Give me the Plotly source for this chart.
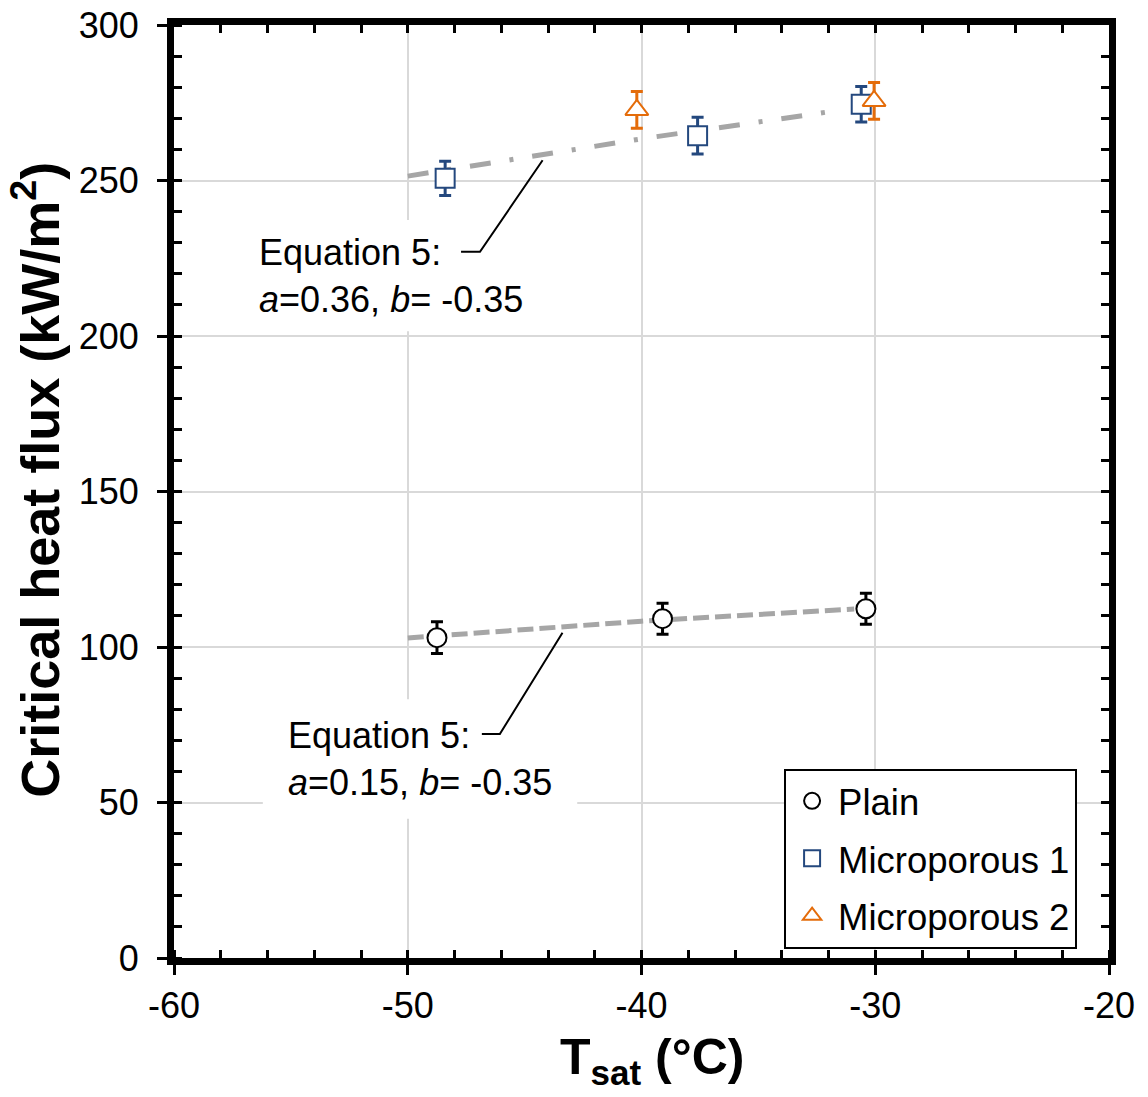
import plotly.graph_objects as go

# ---- data ----
plain_x = [-48.75, -39.1, -30.4]
plain_y = [103.0, 109.1, 112.3]
plain_err = [5.1, 5.0, 5.0]

micro1_x = [-48.4, -37.6, -30.6]
micro1_y = [250.7, 264.4, 274.5]
micro1_err = [5.5, 5.9, 5.7]

micro2_x = [-40.2, -30.05]
micro2_y = [272.7, 275.6]
micro2_err = [5.9, 5.9]

fit_plain_x = [-50.0, -40.0, -30.9]
fit_plain_y = [102.9, 108.3, 112.2]

fit_micro_x = [-50.0, -40.0, -31.7]
fit_micro_y = [251.4, 263.4, 272.4]

upper_leader_x = [-44.23, -46.91, -47.72]
upper_leader_y = [256.5, 227.1, 227.1]
lower_leader_x = [-43.38, -46.06, -46.83]
lower_leader_y = [104.6, 72.0, 72.0]

upper_label = "Equation 5:<br><i>a</i>=0.36, <i>b</i>= -0.35"
lower_label = "Equation 5:<br><i>a</i>=0.15, <i>b</i>= -0.35"
upper_label_pos = (-56.45, 219.4)
lower_label_pos = (-55.2, 64.0)
upper_box = (-56.7, -44.2, 201.5, 237.3)
lower_box = (-56.2, -42.75, 44.8, 83.2)

x_tickvals = [-60, -50, -40, -30, -20]
x_ticktext = ["-60", "-50", "-40", "-30", "-20"]
y_tickvals = [0, 50, 100, 150, 200, 250, 300]
y_ticktext = ["0", "50", "100", "150", "200", "250", "300"]

x_range = [-60, -20]
y_range = [0, 300]

FONT = "Liberation Sans, Arial, sans-serif"
BLUE = "#24487E"
ORANGE = "#E46C0A"
GRAY = "#A6A6A6"

fig = go.Figure()

fig.add_trace(go.Scatter(x=fit_plain_x, y=fit_plain_y, mode="lines", showlegend=False,
                         line=dict(color=GRAY, width=5, dash="16px,6px"), hoverinfo="skip"))
fig.add_trace(go.Scatter(x=fit_micro_x, y=fit_micro_y, mode="lines", showlegend=False,
                         line=dict(color=GRAY, width=5, dash="21px,19px,4px,19px"), hoverinfo="skip"))

fig.add_trace(go.Scatter(
    x=plain_x, y=plain_y, mode="markers", name="Plain", legendgroup="a",
    marker=dict(symbol="circle", size=19, color="white", line=dict(color="black", width=2)),
    error_y=dict(type="data", array=plain_err, color="black", thickness=3, width=6)))
fig.add_trace(go.Scatter(
    x=micro1_x, y=micro1_y, mode="markers", name="Microporous 1", legendgroup="b",
    marker=dict(symbol="square", size=19, color="white", line=dict(color=BLUE, width=2)),
    error_y=dict(type="data", array=micro1_err, color=BLUE, thickness=3, width=6)))
fig.add_trace(go.Scatter(
    x=micro2_x, y=micro2_y, mode="markers", name="Microporous 2", legendgroup="c",
    marker=dict(symbol="triangle-up", size=20, color="white", line=dict(color=ORANGE, width=2)),
    error_y=dict(type="data", array=micro2_err, color=ORANGE, thickness=3, width=6)))

# dummy traces so the overlay tick axes render
fig.add_trace(go.Scatter(x=[None], y=[None], xaxis="x2", yaxis="y2", showlegend=False))
fig.add_trace(go.Scatter(x=[None], y=[None], xaxis="x3", yaxis="y3", showlegend=False))

shapes = []
for bx0, bx1, by0, by1 in [upper_box, lower_box]:
    shapes.append(dict(type="rect", xref="x", yref="y", x0=bx0, x1=bx1, y0=by0, y1=by1,
                       fillcolor="white", line=dict(width=0), layer="between"))
for lxs, lys in [(upper_leader_x, upper_leader_y), (lower_leader_x, lower_leader_y)]:
    path = "M " + " L ".join(f"{a},{b}" for a, b in zip(lxs, lys))
    shapes.append(dict(type="path", xref="x", yref="y", path=path,
                       line=dict(color="black", width=2), layer="above"))

annotations = []
for (lx, ly), txt in [(upper_label_pos, upper_label), (lower_label_pos, lower_label)]:
    annotations.append(dict(x=lx, y=ly, xref="x", yref="y", text=txt, showarrow=False,
                            xanchor="left", yanchor="middle", align="left",
                            font=dict(family=FONT, size=36, color="black")))
annotations.append(dict(x=-0.147, y=0.512, xref="paper", yref="paper", showarrow=False,
                        text="<b>Critical heat flux (kW/m<sup>2</sup>)</b>", textangle=-90,
                        xanchor="center", yanchor="middle",
                        font=dict(family=FONT, size=54, color="black")))
annotations.append(dict(x=0.511, y=-0.110, xref="paper", yref="paper", showarrow=False,
                        text="<b>T<sub>sat</sub> (°C)</b>",
                        xanchor="center", yanchor="middle",
                        font=dict(family=FONT, size=50, color="black")))

tickfont = dict(family=FONT, size=36, color="black")
common_minor = dict(ticks="inside", ticklen=8, tickwidth=2.5, tickcolor="black", showgrid=False)
fig.update_layout(
    width=1148, height=1097,
    margin=dict(l=174, r=39, t=25, b=139),
    plot_bgcolor="white", paper_bgcolor="white",
    font=dict(family=FONT, color="black"),
    annotations=annotations,
    shapes=shapes,
    xaxis=dict(range=x_range, tickmode="array", tickvals=x_tickvals, ticktext=x_ticktext,
               showgrid=True, gridcolor="#D9D9D9", gridwidth=2,
               showline=True, linecolor="black", linewidth=7, mirror=True,
               ticks="outside", ticklen=10, tickwidth=2.5, tickcolor="black",
               minor=dict(dtick=2, tick0=-60, **common_minor),
               tickfont=tickfont, ticklabelstandoff=0, zeroline=False, automargin=False),
    yaxis=dict(range=y_range, tickmode="array", tickvals=y_tickvals, ticktext=y_ticktext,
               showgrid=True, gridcolor="#D9D9D9", gridwidth=2,
               showline=True, linecolor="black", linewidth=7, mirror=True,
               ticks="outside", ticklen=10, tickwidth=2.5, tickcolor="black",
               minor=dict(dtick=10, tick0=0, **common_minor),
               tickfont=tickfont, ticklabelstandoff=11, zeroline=False, automargin=False),
    xaxis2=dict(overlaying="x", side="top", range=x_range, dtick=10, tick0=-60, showgrid=False,
                showticklabels=False, ticks="inside", ticklen=8, tickwidth=2.5, tickcolor="black",
                minor=dict(dtick=2, tick0=-60, **common_minor),
                zeroline=False, showline=False, automargin=False),
    yaxis2=dict(overlaying="y", side="right", range=y_range, dtick=50, showgrid=False,
                showticklabels=False, ticks="inside", ticklen=8, tickwidth=2.5, tickcolor="black",
                minor=dict(dtick=10, tick0=0, **common_minor),
                zeroline=False, showline=False, automargin=False),
    xaxis3=dict(overlaying="x", side="bottom", range=x_range, dtick=10, tick0=-60, showgrid=False,
                showticklabels=False, ticks="inside", ticklen=8, tickwidth=2.5, tickcolor="black",
                zeroline=False, showline=False, automargin=False),
    yaxis3=dict(overlaying="y", side="left", range=y_range, dtick=50, showgrid=False,
                showticklabels=False, ticks="inside", ticklen=8, tickwidth=2.5, tickcolor="black",
                zeroline=False, showline=False, automargin=False),
    legend=dict(x=0.6525, y=0.203, xanchor="left", yanchor="top",
                bgcolor="white", bordercolor="black", borderwidth=2,
                font=dict(family=FONT, size=36.5, color="black"),
                tracegroupgap=7, itemsizing="trace", itemwidth=42,
                entrywidth=275, entrywidthmode="pixels"),
    showlegend=True,
)

fig.write_html("out.html")
